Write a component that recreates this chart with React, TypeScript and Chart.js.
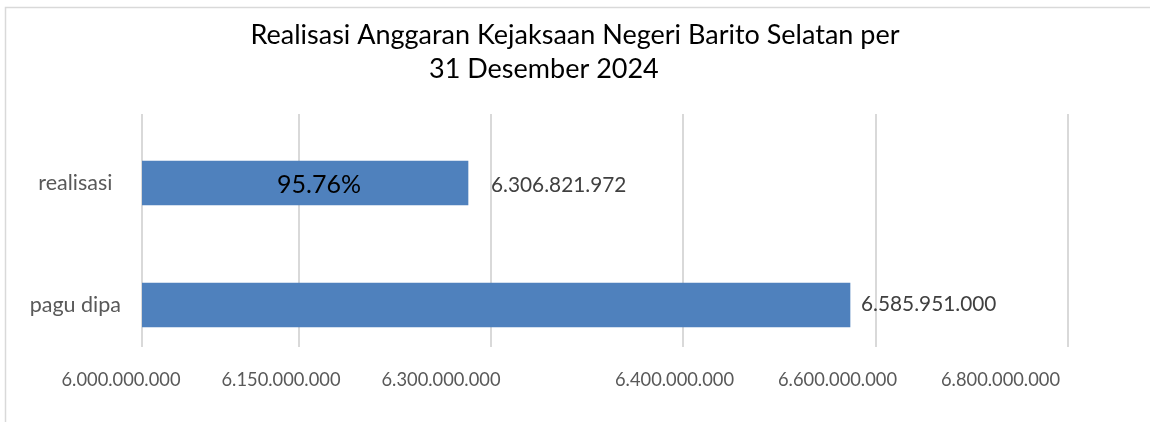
import { useEffect, useRef } from 'react';
import { Chart, registerables } from 'chart.js';

Chart.register(...registerables);

// ---- data ----
const categories = ['realisasi', 'pagu dipa'];
const amounts = [6306821972, 6585951000];
const titleLines = ['Realisasi Anggaran Kejaksaan Negeri Barito Selatan per', '31 Desember 2024         '];

// axis range and tick placement (data units)
const axisMin = 6068610000;
const axisMax = 6745240000;
const gridTickValues = [6068610000, 6183330000, 6323620000, 6463920000, 6604580000, 6745240000];
const tickLabelValues = [6053270000, 6170180000, 6287090000, 6457710000, 6576810000, 6695920000];
const tickLabels = ['6.000.000.000', '6.150.000.000', '6.300.000.000', '6.400.000.000', '6.600.000.000', '6.800.000.000'];

const FONT = 'Lato, "Noto Sans", sans-serif';

const fmt = (n: number) => String(n).replace(/\B(?=(\d{3})+(?!\d))/g, '.');

const valuePad = [23, 11];
const valueDy = [2.5, -1];

const framePlugin = {
  id: 'frame',
  beforeDraw(chart: any) {
    const ctx = chart.ctx;
    ctx.save();
    ctx.fillStyle = '#ffffff';
    ctx.fillRect(0, 0, chart.width, chart.height);
    ctx.strokeStyle = '#d9d9d9';
    ctx.lineWidth = 1.5;
    ctx.strokeRect(5.5, 7.5, chart.width + 50, chart.height + 50);
    ctx.restore();
  },
};

const barLabelPlugin = {
  id: 'barLabels',
  afterDatasetsDraw(chart: any) {
    const ctx = chart.ctx;
    const meta = chart.getDatasetMeta(0);
    const left = chart.scales.x.getPixelForValue(axisMin);
    const pct = ((amounts[0] / amounts[1]) * 100).toFixed(2) + '%';
    ctx.save();
    ctx.textBaseline = 'middle';
    meta.data.forEach((bar: any, i: number) => {
      const bx = bar.x;
      const by = bar.y;
      ctx.font = `20.8px ${FONT}`;
      ctx.fillStyle = '#404040';
      ctx.textAlign = 'left';
      ctx.fillText(fmt(amounts[i]), bx + valuePad[i], by + valueDy[i]);
      if (i === 0) {
        ctx.font = `25px ${FONT}`;
        ctx.fillStyle = '#000000';
        ctx.textAlign = 'center';
        ctx.fillText(pct, (bx + left) / 2 + 14, by + 2);
      }
    });
    ctx.restore();
  },
};

export default function App() {
  const ref = useRef<HTMLCanvasElement | null>(null);

  useEffect(() => {
    document.body.style.margin = '0';
    const canvas = ref.current;
    if (!canvas) return;
    const chart = new Chart(canvas, {
      type: 'bar',
      data: {
        datasets: [
          {
            data: categories.map((_, i) => ({ x: amounts[i], y: i })) as any,
            backgroundColor: '#4f81bd',
            borderWidth: 0,
            barThickness: 44,
          },
        ],
      },
      options: {
        indexAxis: 'y',
        animation: false,
        responsive: false,
        devicePixelRatio: 1,
        layout: { padding: { left: 0, right: 0, top: 0, bottom: 32 } },
        plugins: {
          legend: { display: false },
          tooltip: { enabled: false },
          title: {
            display: true,
            text: titleLines,
            color: '#000000',
            font: { family: FONT, size: 27, weight: 'normal', lineHeight: 1.26 },
            padding: { top: 18, bottom: 28 },
          },
        },
        scales: {
          y: {
            type: 'linear',
            reverse: true,
            offset: false,
            min: -0.5656,
            max: 1.3443,
            grid: { display: false, drawTicks: false },
            border: { display: false },
            afterBuildTicks: (s: any) => {
              s.ticks = categories.map((_, i) => ({ value: i }));
            },
            afterFit: (s: any) => {
              s.width = 142;
            },
            ticks: {
              callback: (v: any) => categories[v] ?? '',
              crossAlign: 'center',
              padding: 21,
              color: '#595959',
              font: { family: FONT, size: 21.5 },
            },
          },
          x: {
            type: 'linear',
            min: axisMin,
            max: axisMax,
            afterBuildTicks: (s: any) => {
              s.ticks = gridTickValues.map((v) => ({ value: v }));
            },
            afterFit: (s: any) => {
              s.height = 0;
            },
            ticks: { display: false },
            grid: { color: '#d9d9d9', lineWidth: 2, drawTicks: false },
            border: { display: false },
          },
          xl: {
            type: 'linear',
            position: 'bottom',
            min: axisMin,
            max: axisMax,
            afterBuildTicks: (s: any) => {
              s.ticks = tickLabelValues.map((v) => ({ value: v }));
            },
            afterFit: (s: any) => {
              s.paddingRight = 82;
              s.height = 43;
            },
            grid: { display: false, drawTicks: false },
            border: { display: false },
            ticks: {
              callback: (_v: any, i: number) => tickLabels[i],
              autoSkip: false,
              maxRotation: 0,
              minRotation: 0,
              padding: 22,
              color: '#595959',
              font: { family: FONT, size: 18.3 },
            },
          },
        },
      } as any,
      plugins: [framePlugin, barLabelPlugin],
    });
    return () => chart.destroy();
  }, []);

  return (
    <div style={{ width: 1150, height: 422 }}>
      <canvas ref={ref} width={1150} height={422} style={{ display: 'block' }} />
    </div>
  );
}
